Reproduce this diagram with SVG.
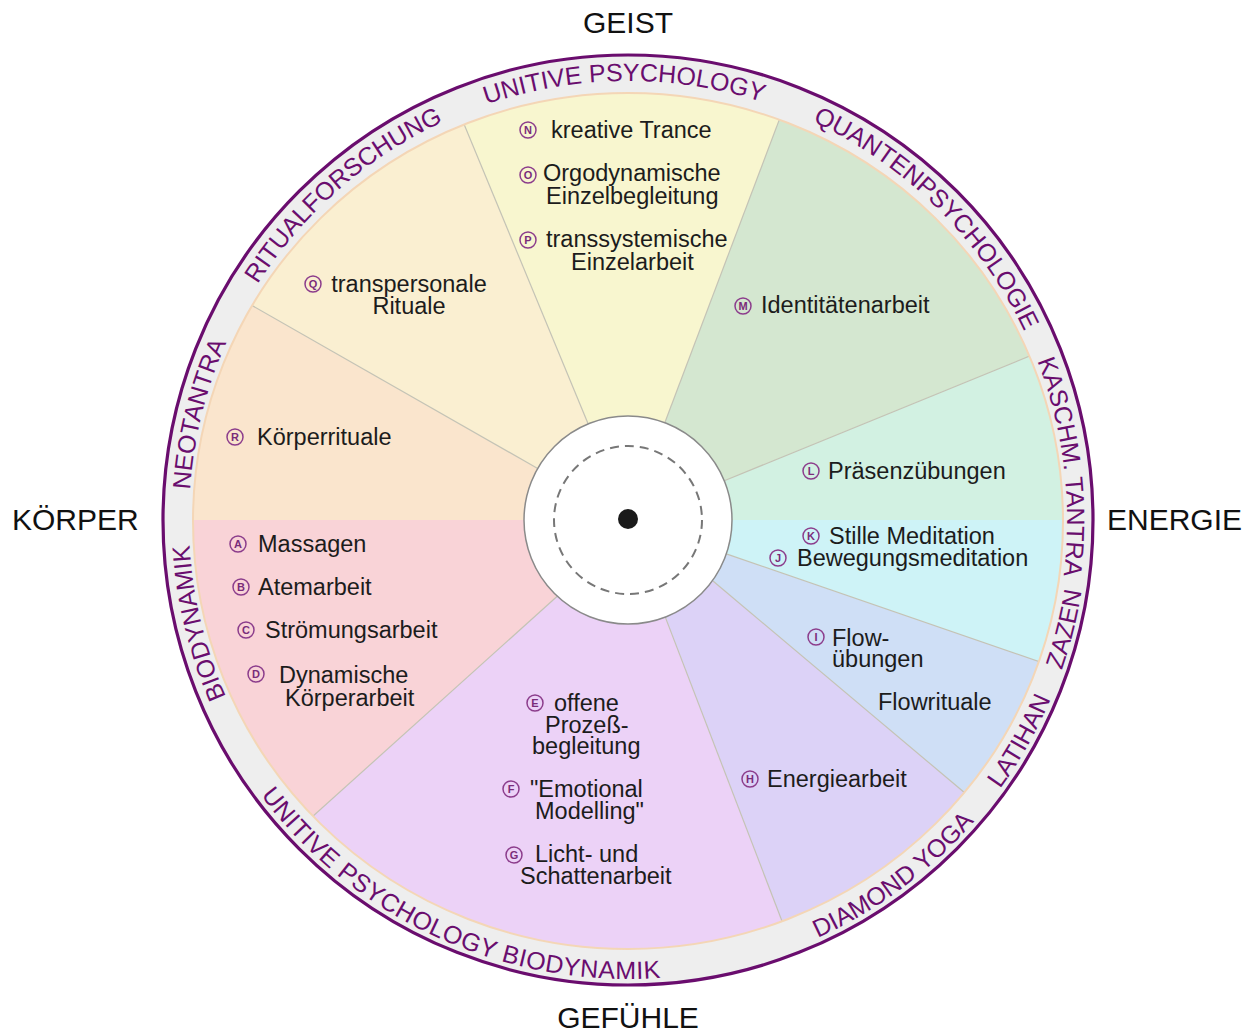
<svg xmlns="http://www.w3.org/2000/svg" xmlns:xlink="http://www.w3.org/1999/xlink" width="1252" height="1033" viewBox="0 0 1252 1033">
<defs>
<style>
.t{font-family:"Liberation Sans",Arial,sans-serif;font-size:23.5px;fill:#1c1c1c}
.m{text-anchor:middle}
.h{font-family:"Liberation Sans",Arial,sans-serif;font-size:30px;fill:#111}
.r{font-family:"Liberation Sans",Arial,sans-serif;font-size:25px;fill:#6a0d6e}
.bd{fill:none;stroke:#8c3d8c;stroke-width:1.5}
.bl{font-family:"Liberation Sans",Arial,sans-serif;font-size:11px;font-weight:bold;fill:#7a2c7a;text-anchor:middle}
.sep{stroke:#c4c3b5;stroke-width:1.2;fill:none}
</style>
<clipPath id="disk"><ellipse cx="628" cy="521" rx="435" ry="428"/></clipPath>
<path id="cw" d="M247.8,300.5 A439,439 0 0 1 1008.2,300.5"/>
<path id="ccw" d="M230.5,749.5 A459,459 0 0 0 1025.5,749.5"/>
</defs>
<rect width="1252" height="1033" fill="#ffffff"/>

<g id="ring">
<circle cx="628" cy="520" r="465" fill="#eeeeee" stroke="#6a0d6e" stroke-width="3.2"/>
</g>

<g id="sector-KJ">
<polygon clip-path="url(#disk)" fill="#cef3f7" points="628,520 732,520 1328,520 1289.9,747.9 726.3,553.9"/>
<circle class="bd" cx="811" cy="536" r="8"/><text class="bl" x="811" y="540">K</text>
<text class="t" x="829" y="544">Stille Meditation</text>
<circle class="bd" cx="778" cy="558" r="8"/><text class="bl" x="778" y="562">J</text>
<text class="t" x="797" y="566">Bewegungsmeditation</text>
</g>

<g id="sector-I">
<polygon clip-path="url(#disk)" fill="#cfdff6" points="628,520 726.3,553.9 1289.9,747.9 1248.6,1031.7 713,581"/>
<circle class="bd" cx="816" cy="637" r="8"/><text class="bl" x="816" y="641">I</text>
<text class="t" x="832" y="646">Flow-</text>
<text class="t" x="832" y="667">übungen</text>
<text class="t" x="878" y="710">Flowrituale</text>
</g>

<g id="sector-H">
<polygon clip-path="url(#disk)" fill="#dcd2f7" points="628,520 713,581 1248.6,1031.7 878.9,1173.5 665.3,617.1"/>
<circle class="bd" cx="750" cy="779" r="8"/><text class="bl" x="750" y="783">H</text>
<text class="t" x="767" y="787">Energiearbeit</text>
</g>

<g id="sector-EFG">
<polygon clip-path="url(#disk)" fill="#ecd2f7" points="628,520 665.3,617.1 878.9,1173.5 37.3,1064.4 557.5,596"/>
<circle class="bd" cx="535" cy="703" r="8"/><text class="bl" x="535" y="707">E</text>
<text class="t" x="554" y="711">offene</text>
<text class="t" x="545" y="733">Prozeß-</text>
<text class="t" x="532" y="754">begleitung</text>
<circle class="bd" cx="511" cy="789" r="8"/><text class="bl" x="511" y="793">F</text>
<text class="t" x="530" y="797">"Emotional</text>
<text class="t" x="535" y="819">Modelling"</text>
<circle class="bd" cx="514" cy="855" r="8"/><text class="bl" x="514" y="859">G</text>
<text class="t" x="535" y="862">Licht- und</text>
<text class="t" x="520" y="884">Schattenarbeit</text>
</g>

<g id="sector-ABCD">
<polygon clip-path="url(#disk)" fill="#f9d3d7" points="628,520 557.5,596 37.3,1064.4 -72,520 524,520"/>
<circle class="bd" cx="238" cy="544" r="8"/><text class="bl" x="238" y="548">A</text>
<text class="t" x="258" y="552">Massagen</text>
<circle class="bd" cx="241" cy="587" r="8"/><text class="bl" x="241" y="591">B</text>
<text class="t" x="258" y="595">Atemarbeit</text>
<circle class="bd" cx="246" cy="630" r="8"/><text class="bl" x="246" y="634">C</text>
<text class="t" x="265" y="638">Strömungsarbeit</text>
<circle class="bd" cx="256" cy="674" r="8"/><text class="bl" x="256" y="678">D</text>
<text class="t" x="279" y="683">Dynamische</text>
<text class="t" x="285" y="706">Körperarbeit</text>
</g>

<g id="sector-R">
<polygon clip-path="url(#disk)" fill="#fae5cd" points="628,520 524,520 -72,520 20,173.1 537.7,468.5"/>
<circle class="bd" cx="235" cy="437" r="8"/><text class="bl" x="235" y="441">R</text>
<text class="t" x="257" y="445">Körperrituale</text>
</g>

<g id="sector-Q">
<polygon clip-path="url(#disk)" fill="#faefd1" points="628,520 537.7,468.5 20,173.1 360.1,-126.7 588.2,423.9"/>
<circle class="bd" cx="313" cy="284" r="8"/><text class="bl" x="313" y="288">Q</text>
<text class="t m" x="409" y="292">transpersonale</text>
<text class="t m" x="409" y="314">Rituale</text>
</g>

<g id="sector-NOP">
<polygon clip-path="url(#disk)" fill="#f8f6cf" points="628,520 588.2,423.9 360.1,-126.7 875.5,-134.8 664.8,422.7"/>
<circle class="bd" cx="528" cy="130" r="8"/><text class="bl" x="528" y="134">N</text>
<text class="t" x="551" y="138">kreative Trance</text>
<circle class="bd" cx="528" cy="175" r="8"/><text class="bl" x="528" y="179">O</text>
<text class="t" x="543" y="181">Orgodynamische</text>
<text class="t" x="546" y="204">Einzelbegleitung</text>
<circle class="bd" cx="528" cy="240" r="8"/><text class="bl" x="528" y="244">P</text>
<text class="t" x="546" y="247">transsystemische</text>
<text class="t" x="571" y="270">Einzelarbeit</text>
</g>

<g id="sector-M">
<polygon clip-path="url(#disk)" fill="#d4e7d0" points="628,520 664.8,422.7 875.5,-134.8 1276.1,255.5 724.3,480.7"/>
<circle class="bd" cx="743" cy="306" r="8"/><text class="bl" x="743" y="310">M</text>
<text class="t" x="761" y="313">Identitätenarbeit</text>
</g>

<g id="sector-L">
<polygon clip-path="url(#disk)" fill="#d2f1e2" points="628,520 724.3,480.7 1276.1,255.5 1328,520 732,520"/>
<circle class="bd" cx="811" cy="471" r="8"/><text class="bl" x="811" y="475">L</text>
<text class="t" x="828" y="479">Präsenzübungen</text>
</g>

<g id="connectors" clip-path="url(#disk)">
<line class="sep" x1="726.3" y1="553.9" x2="1289.9" y2="747.9"/>
<line class="sep" x1="713" y1="581" x2="1248.6" y2="1031.7"/>
<line class="sep" x1="665.3" y1="617.1" x2="878.9" y2="1173.5"/>
<line class="sep" x1="557.5" y1="596" x2="37.3" y2="1064.4"/>
<line class="sep" x1="537.7" y1="468.5" x2="20" y2="173.1"/>
<line class="sep" x1="588.2" y1="423.9" x2="360.1" y2="-126.7"/>
<line class="sep" x1="664.8" y1="422.7" x2="875.5" y2="-134.8"/>
<line class="sep" x1="724.3" y1="480.7" x2="1276.1" y2="255.5"/>
</g>
<ellipse cx="628" cy="521" rx="435" ry="428" fill="none" stroke="#f4d6b6" stroke-width="2"/>

<g id="ring-labels">
<text class="r" transform="rotate(-0.5 628 520)"><textPath xlink:href="#cw" href="#cw" startOffset="50%" text-anchor="middle">UNITIVE PSYCHOLOGY</textPath></text>
<text class="r" transform="rotate(44.7 628 520)"><textPath xlink:href="#cw" href="#cw" startOffset="50%" text-anchor="middle">QUANTENPSYCHOLOGIE</textPath></text>
<text class="r" transform="rotate(83 628 520)"><textPath xlink:href="#cw" href="#cw" startOffset="50%" text-anchor="middle">KASCHM. TANTRA</textPath></text>
<text class="r" transform="rotate(-41.2 628 520)"><textPath xlink:href="#cw" href="#cw" startOffset="50%" text-anchor="middle">RITUALFORSCHUNG</textPath></text>
<text class="r" transform="rotate(-76.1 628 520)"><textPath xlink:href="#cw" href="#cw" startOffset="50%" text-anchor="middle">NEOTANTRA</textPath></text>
<text class="r" transform="rotate(-103.5 628 520)"><textPath xlink:href="#cw" href="#cw" startOffset="50%" text-anchor="middle">BIODYNAMIK</textPath></text>
<text class="r" transform="rotate(-76 628 520)"><textPath xlink:href="#ccw" href="#ccw" startOffset="50%" text-anchor="middle">ZAZEN</textPath></text>
<text class="r" transform="rotate(-60.6 628 520)"><textPath xlink:href="#ccw" href="#ccw" startOffset="50%" text-anchor="middle">LATIHAN</textPath></text>
<text class="r" transform="rotate(-36.7 628 520)"><textPath xlink:href="#ccw" href="#ccw" startOffset="50%" text-anchor="middle">DIAMOND YOGA</textPath></text>
<text class="r" transform="rotate(24.5 628 520)" letter-spacing="0.5"><textPath xlink:href="#ccw" href="#ccw" startOffset="50%" text-anchor="middle">UNITIVE PSYCHOLOGY BIODYNAMIK</textPath></text>
</g>

<g id="center">
<circle cx="628" cy="520" r="104" fill="#ffffff" stroke="#8a8a8a" stroke-width="1.5"/>
<circle cx="628" cy="520" r="74" fill="none" stroke="#777777" stroke-width="2" stroke-dasharray="9 6"/>
<circle cx="628" cy="519" r="10" fill="#1a1a1a"/>
</g>

<g id="axis-labels">
<text class="h m" x="628" y="33">GEIST</text>
<text class="h" x="12" y="530">KÖRPER</text>
<text class="h" x="1107" y="530">ENERGIE</text>
<text class="h m" x="628" y="1028">GEFÜHLE</text>
</g>
</svg>
